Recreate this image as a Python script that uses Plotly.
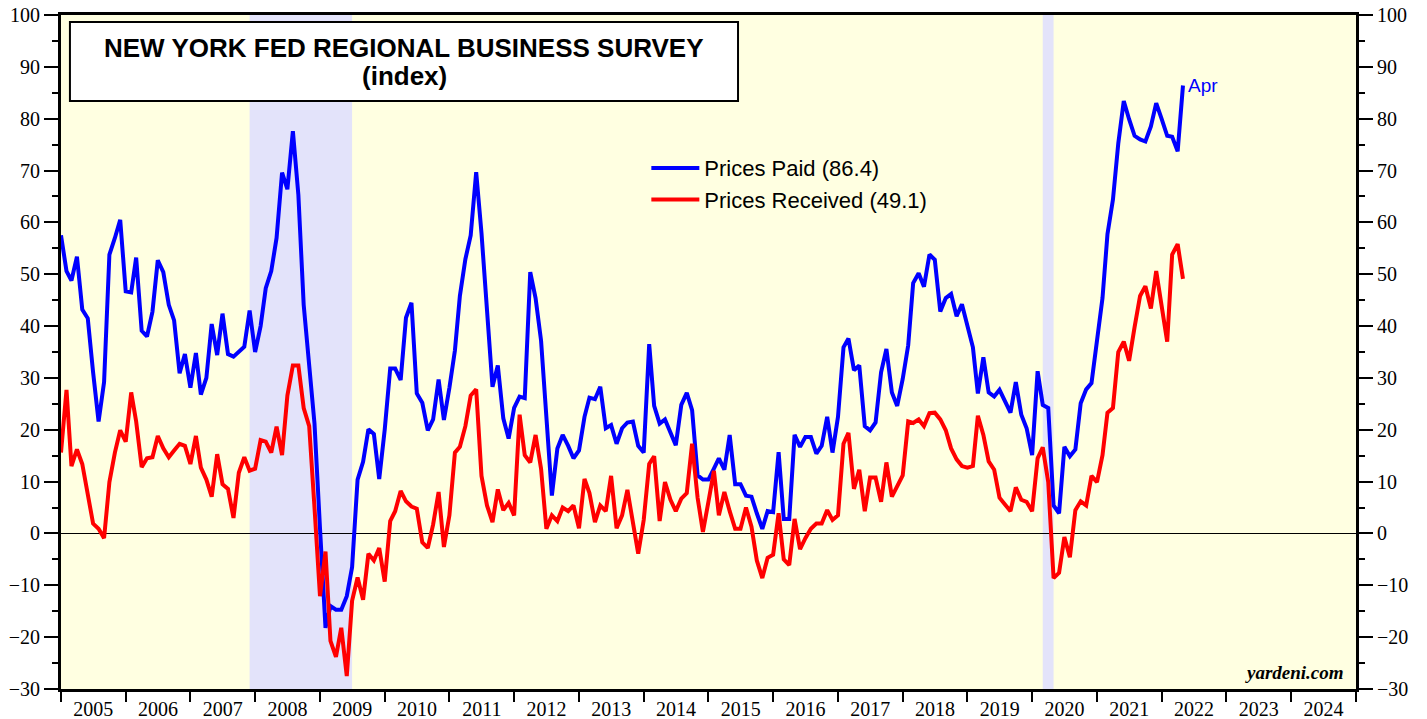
import plotly.graph_objects as go
import pandas as pd

# Monthly readings (month-end positions), last value = Apr 2022
prices_paid = [
    57.5, 50.6, 48.8, 53.4, 43.2, 41.5, 31.1, 21.6, 29.2, 53.8, 57.0, 60.5,
    46.7, 46.5, 53.2, 39.1, 38.0, 42.8, 52.7, 50.4, 44.1, 41.1, 30.9, 34.6,
    28.1, 34.8, 26.8, 30.0, 40.4, 34.4, 42.4, 34.6, 34.1, 35.0, 36.0, 43.0,
    35.0, 40.0, 47.3, 50.6, 57.0, 69.6, 66.4, 77.6, 65.3, 44.1, 32.8, 21.2,
    1.0, -18.2, -14.0, -14.7, -14.7, -12.1, -6.5, 10.4, 13.8, 20.1, 19.2, 10.5,
    20.0, 31.8, 31.8, 29.6, 41.6, 44.5, 27.0, 25.2, 19.9, 22.0, 29.7, 21.9,
    28.1, 35.3, 45.8, 52.9, 57.5, 69.7, 57.9, 43.2, 28.3, 32.4, 22.2, 18.3,
    24.2, 26.4, 26.1, 50.4, 45.4, 37.2, 22.0, 7.3, 16.4, 19.0, 16.9, 14.5,
    16.0, 22.5, 26.2, 25.9, 28.3, 20.3, 20.9, 17.3, 20.3, 21.4, 21.6, 16.9,
    15.6, 36.5, 24.6, 21.2, 22.0, 19.4, 17.0, 24.8, 27.1, 23.8, 11.2, 10.4,
    10.4, 12.5, 14.5, 12.3, 19.0, 9.5, 9.5, 7.3, 7.1, 3.9, 0.9, 4.3,
    4.1, 15.7, 2.8, 2.8, 19.0, 16.7, 18.6, 18.6, 15.4, 16.9, 22.5, 15.6,
    22.5, 35.9, 37.6, 31.5, 32.4, 20.7, 19.9, 21.4, 31.1, 35.6, 27.2, 24.6,
    29.8, 36.3, 48.3, 50.2, 47.6, 53.8, 52.8, 42.8, 45.4, 46.2, 41.9, 44.2,
    39.9, 35.9, 27.0, 34.0, 27.2, 26.4, 27.7, 25.3, 23.3, 29.2, 22.9, 20.3,
    15.1, 31.3, 24.8, 24.2, 5.4, 3.9, 16.7, 14.9, 16.2, 25.1, 27.8, 29.0,
    36.7, 45.4, 57.7, 64.4, 75.2, 83.4, 79.9, 76.7, 76.0, 75.6, 78.5, 83.0,
    79.9, 76.7, 76.5, 73.7, 86.4,
]

prices_received = [
    15.6, 27.7, 13.0, 16.2, 13.4, 7.8, 1.9, 0.9, -0.9, 9.9, 15.6, 19.9,
    17.7, 27.2, 21.6, 12.8, 14.5, 14.7, 18.8, 16.4, 14.7, 16.0, 17.3, 16.9,
    13.4, 18.8, 12.7, 10.4, 7.1, 15.3, 9.5, 8.6, 3.0, 11.7, 14.7, 12.1,
    12.5, 18.0, 17.7, 15.6, 20.6, 15.1, 26.6, 32.4, 32.4, 24.2, 20.7, 5.0,
    -12.1, -3.5, -20.7, -23.8, -18.2, -27.5, -13.0, -8.5, -12.8, -3.9, -5.2, -2.8,
    -9.3, 2.4, 4.3, 8.2, 6.2, 5.2, 4.8, -1.7, -2.8, 1.7, 8.0, -2.6,
    3.5, 15.6, 16.7, 20.7, 26.6, 27.8, 11.1, 5.4, 2.2, 8.5, 4.5, 5.9,
    3.5, 22.9, 15.1, 13.7, 19.0, 12.5, 0.9, 3.5, 2.4, 5.0, 4.3, 5.4,
    1.0, 10.5, 7.8, 2.2, 5.4, 4.3, 11.1, 1.0, 3.5, 8.4, 2.2, -3.9,
    2.6, 13.4, 14.9, 2.4, 9.9, 6.5, 4.3, 6.7, 7.8, 17.3, 6.9, 0.3,
    6.1, 12.1, 3.5, 8.0, 4.3, 0.9, 0.9, 5.0, 1.3, -5.2, -8.6, -4.7,
    -4.1, 3.9, -5.0, -6.1, 2.8, -3.0, -0.9, 0.9, 1.9, 1.9, 4.5, 2.6,
    3.5, 17.3, 19.4, 8.6, 12.3, 4.3, 10.8, 10.8, 6.1, 13.7, 7.1, 9.0,
    11.2, 21.6, 21.3, 22.0, 20.7, 23.2, 23.3, 22.0, 19.9, 16.4, 14.3, 13.0,
    12.7, 13.0, 22.7, 19.0, 13.9, 12.3, 6.9, 5.6, 4.3, 8.9, 6.5, 6.1,
    4.3, 14.5, 16.6, 9.9, -8.6, -7.6, -0.7, -4.6, 4.5, 6.2, 5.4, 11.1,
    9.9, 15.1, 23.3, 24.2, 35.0, 37.0, 33.3, 39.8, 45.8, 47.7, 43.4, 50.6,
    44.1, 37.0, 53.8, 55.8, 49.1,
]

dates = pd.date_range("2005-01-01", periods=len(prices_paid), freq="MS")

recessions = [("2007-12-01", "2009-07-01"), ("2020-03-01", "2020-05-01")]

legend_names = ["Prices Paid (86.4)", "Prices Received (49.1)"]
title_lines = ["NEW YORK FED REGIONAL BUSINESS SURVEY", "(index)"]
last_label = "Apr"

SERIF = "Liberation Serif, Times New Roman, serif"
SANS = "Liberation Sans, Arial, sans-serif"

fig = go.Figure()
fig.add_trace(go.Scatter(x=dates, y=prices_paid, mode="lines", name=legend_names[0],
                         line=dict(color="#0000FF", width=4)))
fig.add_trace(go.Scatter(x=dates, y=prices_received, mode="lines", name=legend_names[1],
                         line=dict(color="#FF0000", width=4)))
fig.add_trace(go.Scatter(x=[dates[0]], y=[None], yaxis="y2", showlegend=False,
                         hoverinfo="skip", mode="lines"))

shapes = []
for s, e in recessions:
    shapes.append(dict(type="rect", xref="x", yref="paper", x0=s, x1=e, y0=0, y1=1,
                       fillcolor="#E3E3FA", line=dict(width=0), layer="below"))
# title box
shapes.append(dict(type="rect", xref="paper", yref="paper", x0=0.0069, x1=0.5228,
                   y0=0.8724, y1=0.9896, fillcolor="white",
                   line=dict(color="black", width=2), layer="above"))

annotations = [
    dict(text="<b>%s</b>" % title_lines[0], xref="paper", yref="paper", x=0.2649, y=0.9505,
         xanchor="center", yanchor="middle", showarrow=False,
         font=dict(family=SANS, size=26, color="black")),
    dict(text="<b>%s</b>" % title_lines[1], xref="paper", yref="paper", x=0.2649, y=0.910,
         xanchor="center", yanchor="middle", showarrow=False,
         font=dict(family=SANS, size=26, color="black")),
    dict(text=last_label, x=dates[-1], y=prices_paid[-1], xanchor="left", yanchor="middle",
         xshift=3, showarrow=False, font=dict(family=SANS, size=19, color="#0000FF")),
    dict(text="<b><i>yardeni.com</i></b>", xref="paper", yref="paper", x=0.992, y=0.025,
         xanchor="right", yanchor="middle", showarrow=False,
         font=dict(family=SERIF, size=19, color="black")),
]

yaxis_common = dict(range=[-30, 100], dtick=10, tick0=0, ticks="outside", ticklen=14,
                    tickwidth=2, tickcolor="black", showgrid=False, automargin=False,
                    ticklabeloverflow="allow",
                    minor=dict(dtick=5, ticks="outside", ticklen=6, tickwidth=2,
                               tickcolor="black", showgrid=False),
                    showline=True, linecolor="black", linewidth=3,
                    tickfont=dict(family=SERIF, size=20, color="black"))

# page body has an 8px margin: figure is sized/margined to land the plot area at
# x 61..1356, y 15..689 in the 1427x719 window
fig.update_layout(
    width=1419, height=711,
    margin=dict(l=53, r=71, t=7, b=30),
    paper_bgcolor="white",
    plot_bgcolor="#FFFFE1",
    showlegend=True,
    legend=dict(x=0.452, y=0.804, xanchor="left", yanchor="top", itemwidth=48,
                bgcolor="rgba(0,0,0,0)", font=dict(family=SANS, size=22, color="black"),
                tracegroupgap=0),
    xaxis=dict(type="date", range=["2005-01-01", "2025-01-01"], tick0="2005-01-01",
               dtick="M12", tickformat="%Y", ticklabelmode="period", automargin=False,
               ticklabeloverflow="allow", ticklabelstandoff=-10,
               ticks="outside", ticklen=10, tickwidth=2, tickcolor="black",
               showgrid=False, showline=True, linecolor="black", linewidth=3, mirror=True,
               tickfont=dict(family=SERIF, size=20, color="black")),
    yaxis=dict(**yaxis_common, zeroline=True, zerolinecolor="black", zerolinewidth=1),
    yaxis2=dict(**yaxis_common, overlaying="y", side="right", zeroline=False),
    shapes=shapes,
    annotations=annotations,
)

fig.write_html("out.html")
